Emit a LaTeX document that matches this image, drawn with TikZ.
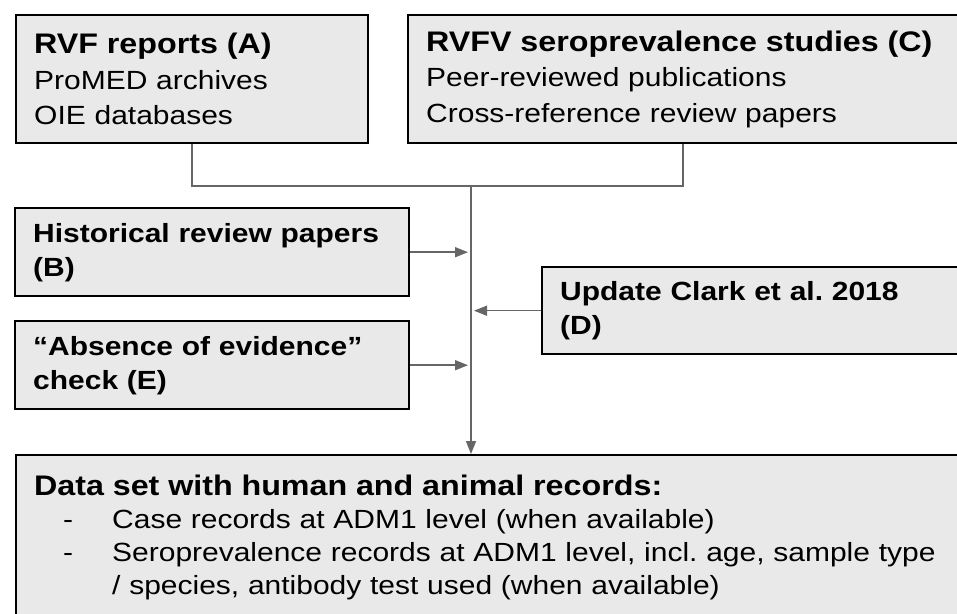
\documentclass[tikz,border=0pt]{standalone}
\usepackage{fontspec}
\setmainfont{Liberation Sans}[FakeStretch=1.14]
\usetikzlibrary{arrows.meta}
\definecolor{boxfill}{HTML}{E9E9E9}
\definecolor{linegray}{HTML}{666666}
\newcommand{\hdr}[1]{{\fontsize{28.3}{35.5}\selectfont\bfseries #1}}
\begin{document}
\begin{tikzpicture}[x=1pt,y=-1pt,
  box/.style={draw=black, line width=2.4pt, fill=boxfill, anchor=north west,
    align=left, inner xsep=18pt, inner ysep=0pt,
    font=\fontsize{26.3}{35.5}\selectfont},
  boldbox/.style={box, font=\fontsize{26.3}{34}\selectfont\bfseries},
  conn/.style={draw=linegray, line width=1.5pt},
  arr/.style={conn, -{Triangle[length=13pt,width=10pt]}, fill=linegray}]
\useasboundingbox (0,0) rectangle (957,613);
\clip (0,0) rectangle (957,613);

\node[box, text width=316pt, minimum height=128pt] (A) at (15,14)
  {\hdr{RVF reports (A)}\\ProMED archives\\OIE databases};
\node[box, text width=564pt, minimum height=128pt] (C) at (407,14)
  {\hdr{\mbox{RVFV seroprevalence studies (C)}}\\Peer-reviewed publications\\\mbox{Cross-reference review papers}};
\node[boldbox, text width=358pt, minimum height=88pt] (B) at (14,207)
  {\mbox{Historical review papers}\\(B)};
\node[boldbox, text width=358pt, minimum height=88pt] (E) at (14,320)
  {\mbox{“Absence of evidence”}\\check (E)};
\node[boldbox, text width=414pt, minimum height=87pt] (D) at (541,266)
  {\mbox{Update Clark et al.\ 2018}\\(D)};
\node[box, font=\fontsize{26.3}{33}\selectfont, inner ysep=20pt, text width=944pt] (F) at (15,454)
  {\hdr{Data set with human and animal records:}\\
   \makebox[78pt][l]{\hspace{29pt}-}Case records at ADM1 level (when available)\\
   \makebox[78pt][l]{\hspace{29pt}-}\mbox{Seroprevalence records at ADM1 level, incl.\ age, sample type}\\
   \hspace*{78pt}/ species, antibody test used (when available)\\
   \mbox{}};

\coordinate (j) at (471,186);
\coordinate (cdrop) at ([xshift=276pt]C.south west);
\coordinate (tipL) at (468,0);
\coordinate (tipR) at (474,0);

\draw[conn] (A.south) |- (j) -| (cdrop);
\draw[arr] (j) -- (F.north -| j);
\draw[arr] (B.east) -- (B.east -| tipL);
\draw[arr] (E.east) -- (E.east -| tipL);
\draw[arr] (D.west) -- (D.west -| tipR);
\end{tikzpicture}
\end{document}
